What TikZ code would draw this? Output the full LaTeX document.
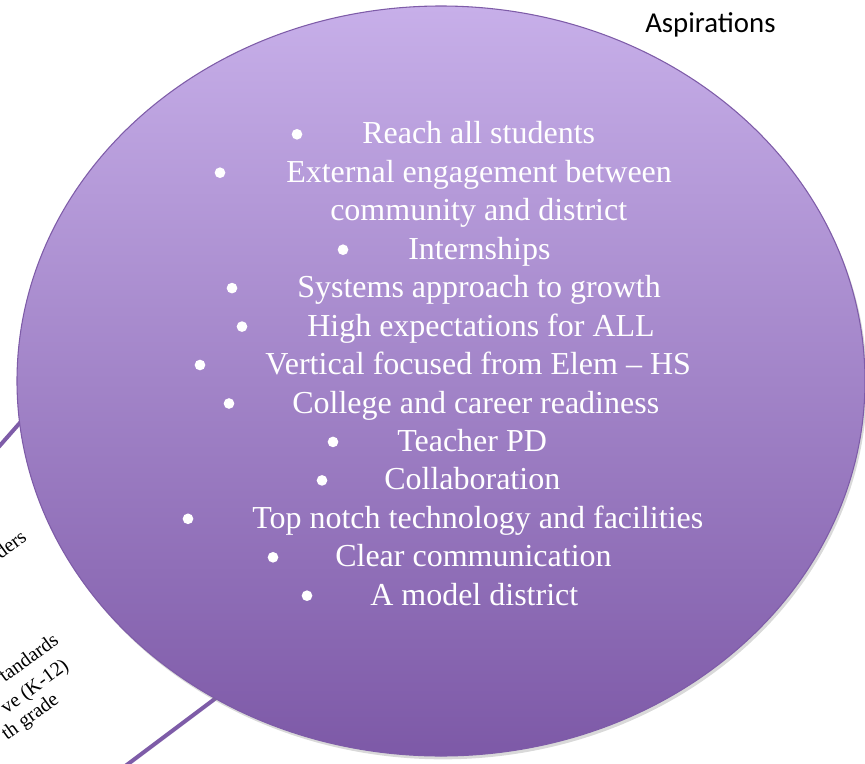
\documentclass[tikz,border=0pt]{standalone}
\usepackage{fontspec}
\setmainfont{Liberation Serif}
\newfontfamily\headfont{Carlito}
\usetikzlibrary{shadows}

\definecolor{lavtop}{RGB}{199,175,233}
\definecolor{lavbot}{RGB}{125,89,167}
\definecolor{lavline}{RGB}{126,92,168}

\tikzset{
  aim/.style={anchor=base west, inner sep=0pt, text=white, font=\fontsize{24}{28}\selectfont},
  dot/.style={circle, fill=white, inner sep=0pt, minimum size=8pt},
  cutoff/.style={rotate=36, anchor=base east, inner sep=0pt, font=\fontsize{15}{18}\selectfont}
}

\begin{document}
\begin{tikzpicture}[x=0.75pt, y=-0.75pt]
    \path[use as bounding box, clip] (0,0) rectangle (865,764);

    % edge of the shape behind, on the left
    \coordinate (upA) at (-4,450);
    \coordinate (upB) at (40,400);
    \coordinate (loA) at (120,770);
    \coordinate (loB) at (240,680);
    \draw[lavline, line width=3pt] (upA) -- (upB);
    \draw[lavline, line width=3pt] (loA) -- (loB);

    \node[cutoff] (ders) at (28,540) {ders};
    \node[cutoff] (stand) at (60,643) {tandards};
    \node[cutoff] (kto) at (70,668) {ve (K-12)};
    \node[cutoff] (grade) at (60,702) {th grade};

    % the big circle
    \draw[lavline, line width=0.8pt, top color=lavtop, bottom color=lavbot,
          drop shadow={shadow xshift=1.5pt, shadow yshift=-2.5pt, opacity=0.3}]
      (441,381) ellipse [x radius=318pt, y radius=281.25pt];

    \node[anchor=base west, inner sep=0pt, font=\headfont\fontsize{21.6}{26}\selectfont]
      (title) at (645,32) {Aspirations};

    \node[dot] (d0) at (297,134.3) {};
    \node[aim] (reach) at (362,143.8) {Reach all students};
    \node[dot] (d1) at (220,172.7) {};
    \node[aim] (extern) at (286,182.2) {External engagement between};
    \node[aim] (commun) at (330,220.7) {community and district};
    \node[dot] (d3) at (343,249.7) {};
    \node[aim] (intern) at (408,259.2) {Internships};
    \node[dot] (d4) at (232,288.1) {};
    \node[aim] (system) at (297,297.6) {Systems approach to growth};
    \node[dot] (d5) at (242,326.6) {};
    \node[aim] (high) at (307,336.1) {High expectations for ALL};
    \node[dot] (d6) at (200,365.0) {};
    \node[aim] (vert) at (265,374.5) {Vertical focused from Elem -- HS};
    \node[dot] (d7) at (229,403.5) {};
    \node[aim] (college) at (292,413.0) {College and career readiness};
    \node[dot] (d8) at (333,441.9) {};
    \node[aim] (teach) at (397,451.4) {Teacher PD};
    \node[dot] (d9) at (322,480.4) {};
    \node[aim] (collab) at (384,489.9) {Collaboration};
    \node[dot] (d10) at (188,518.8) {};
    \node[aim] (tech) at (252,528.3) {Top notch technology and facilities};
    \node[dot] (d11) at (273,557.3) {};
    \node[aim] (clear) at (335,566.8) {Clear communication};
    \node[dot] (d12) at (307,595.7) {};
    \node[aim] (model) at (370,605.2) {A model district};
\end{tikzpicture}
\end{document}
